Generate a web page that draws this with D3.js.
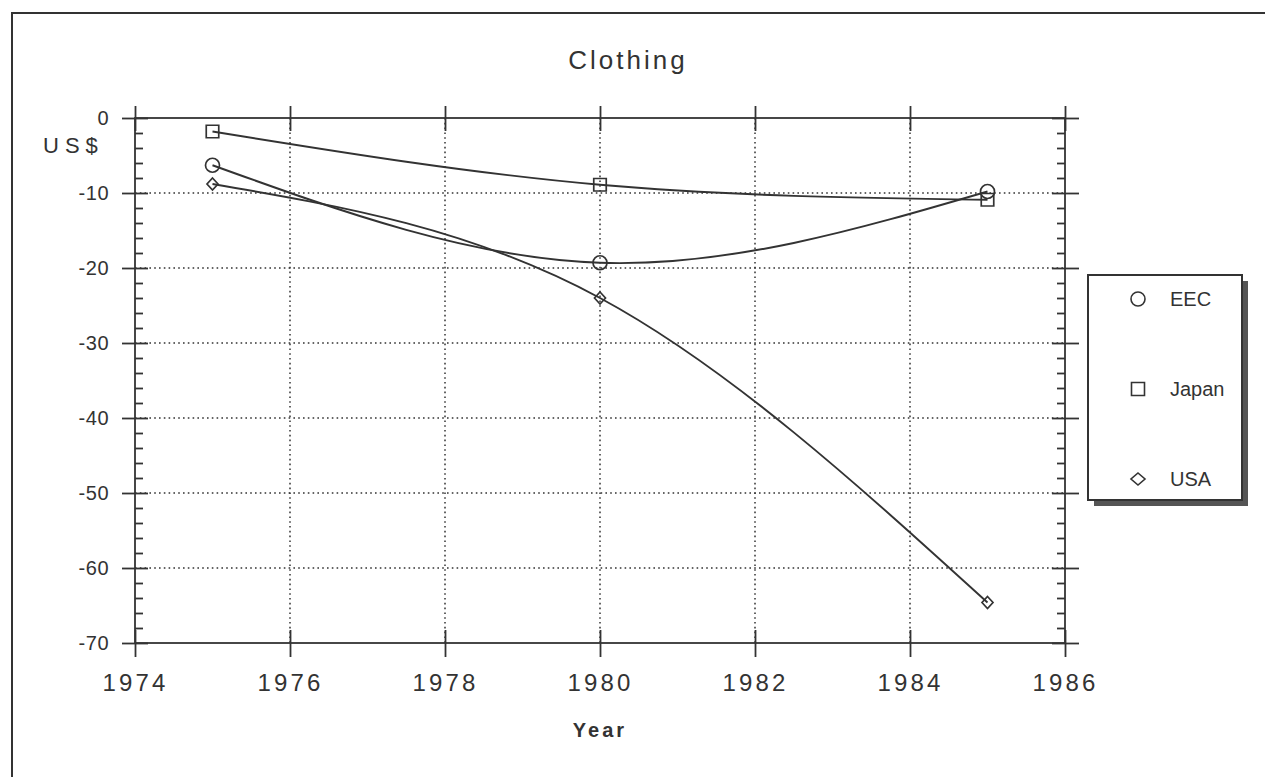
<!DOCTYPE html>
<html>
<head>
<meta charset="utf-8">
<script src="https://cdn.jsdelivr.net/npm/d3@7"></script>
<style>
  html, body { margin: 0; padding: 0; background: #fff; }
  svg { display: block; font-family: "Liberation Sans", Arial, Helvetica, sans-serif; }
</style>
</head>
<body>
<svg id="chart" width="1265" height="777"></svg>
<script>
// Trade balance in clothing, US$ (1975, 1980, 1985)
const years = [1975, 1980, 1985];
const eecValues = [-6.3, -19.3, -9.8];
const japanValues = [-1.8, -8.9, -10.9];
const usaValues = [-8.8, -24.0, -64.6];

const seriesNames = ["EEC", "Japan", "USA"];
const seriesSymbols = ["circle", "square", "diamond"];

const xTickValues = [1974, 1976, 1978, 1980, 1982, 1984, 1986];
const yTickValues = [0, -10, -20, -30, -40, -50, -60, -70];
const yMinorValues = d3.range(0, -71, -2).filter(v => v % 10 !== 0);

const ink = "#333";

const svg = d3.select("#chart");

// outer frame
svg.append("path")
  .attr("d", "M12,777 L12,13 L1265,13")
  .attr("fill", "none").attr("stroke", ink).attr("stroke-width", 2);

const plotLeft = 135, plotRight = 1065, plotTop = 118, plotBottom = 643;
const x = d3.scaleLinear().domain([1974, 1986]).range([plotLeft, plotRight]);
const y = d3.scaleLinear().domain([-70, 0]).range([plotBottom, plotTop]);

// title
svg.append("text")
  .attr("x", 628).attr("y", 69)
  .attr("text-anchor", "middle")
  .attr("font-size", 26).attr("letter-spacing", 3)
  .attr("fill", ink)
  .text("Clothing");

// dotted grid
const grid = svg.append("g").attr("stroke", ink).attr("stroke-width", 1.5)
  .attr("stroke-dasharray", "1.6,3.2");
grid.selectAll("line.h").data(yTickValues.filter(v => v !== 0 && v !== -70)).join("line")
  .attr("class", "h")
  .attr("x1", plotLeft).attr("x2", plotRight)
  .attr("y1", d => y(d)).attr("y2", d => y(d));
grid.selectAll("line.v").data(xTickValues.filter(v => v !== 1974 && v !== 1986)).join("line")
  .attr("class", "v")
  .attr("x1", d => x(d)).attr("x2", d => x(d))
  .attr("y1", plotTop).attr("y2", plotBottom);

// plot frame
svg.append("rect")
  .attr("x", plotLeft).attr("y", plotTop)
  .attr("width", plotRight - plotLeft).attr("height", plotBottom - plotTop)
  .attr("fill", "none").attr("stroke", ink).attr("stroke-width", 1.8);

function styleAxis(g) {
  g.select(".domain").remove();
  g.selectAll(".tick line").attr("stroke", ink).attr("stroke-width", 1.8);
  g.selectAll(".tick text").attr("fill", ink);
}

// left axis: labelled major ticks outward, major + minor ticks inward
svg.append("g").attr("transform", `translate(${plotLeft},0)`)
  .call(d3.axisLeft(y).tickValues(yTickValues).tickSize(13).tickPadding(13)
    .tickFormat(d => String(d)))
  .call(styleAxis)
  .call(g => g.selectAll(".tick text").attr("font-size", 20).attr("letter-spacing", 0.5));
svg.append("g").attr("transform", `translate(${plotLeft},0)`)
  .call(d3.axisRight(y).tickValues(yTickValues).tickSize(13).tickFormat(""))
  .call(styleAxis);
svg.append("g").attr("transform", `translate(${plotLeft},0)`)
  .call(d3.axisRight(y).tickValues(yMinorValues).tickSize(8).tickFormat(""))
  .call(styleAxis);

// right axis
svg.append("g").attr("transform", `translate(${plotRight},0)`)
  .call(d3.axisRight(y).tickValues(yTickValues).tickSize(14).tickFormat(""))
  .call(styleAxis);
svg.append("g").attr("transform", `translate(${plotRight},0)`)
  .call(d3.axisLeft(y).tickValues(yTickValues).tickSize(13).tickFormat(""))
  .call(styleAxis);
svg.append("g").attr("transform", `translate(${plotRight},0)`)
  .call(d3.axisLeft(y).tickValues(yMinorValues).tickSize(8).tickFormat(""))
  .call(styleAxis);

// bottom axis with year labels, ticks both sides
svg.append("g").attr("transform", `translate(0,${plotBottom})`)
  .call(d3.axisBottom(x).tickValues(xTickValues).tickSize(14).tickPadding(17)
    .tickFormat(d => String(d)))
  .call(styleAxis)
  .call(g => g.selectAll(".tick text").attr("font-size", 24).attr("letter-spacing", 3.2));
svg.append("g").attr("transform", `translate(0,${plotBottom})`)
  .call(d3.axisTop(x).tickValues(xTickValues).tickSize(13).tickFormat(""))
  .call(styleAxis);

// top axis ticks both sides
svg.append("g").attr("transform", `translate(0,${plotTop})`)
  .call(d3.axisTop(x).tickValues(xTickValues).tickSize(12).tickFormat(""))
  .call(styleAxis);
svg.append("g").attr("transform", `translate(0,${plotTop})`)
  .call(d3.axisBottom(x).tickValues(xTickValues).tickSize(13).tickFormat(""))
  .call(styleAxis);

// axis titles
svg.append("text")
  .attr("x", 43).attr("y", 153)
  .attr("font-size", 22).attr("letter-spacing", 6)
  .attr("fill", ink)
  .text("US$");
svg.append("text")
  .attr("x", 600).attr("y", 737)
  .attr("text-anchor", "middle")
  .attr("font-size", 20).attr("font-weight", "bold").attr("letter-spacing", 3)
  .attr("fill", ink)
  .text("Year");

// series
const series = [eecValues, japanValues, usaValues].map((vals, i) => ({
  name: seriesNames[i],
  symbol: seriesSymbols[i],
  points: years.map((yr, j) => ({ year: yr, value: vals[j] }))
}));

const line = d3.line()
  .x(d => x(d.year)).y(d => y(d.value))
  .curve(d3.curveNatural);

const markerPaths = {
  circle: d3.symbol().type(d3.symbolCircle).size(Math.PI * 7 * 7)(),
  square: d3.symbol().type(d3.symbolSquare).size(12.5 * 12.5)(),
  diamond: "M0,-6 L5.5,0 L0,6 L-5.5,0 Z"
};

const plot = svg.append("g");
plot.selectAll("path.series").data(series).join("path")
  .attr("class", "series")
  .attr("d", d => line(d.points))
  .attr("fill", "none").attr("stroke", ink).attr("stroke-width", 1.9);

series.forEach(s => {
  plot.append("g").selectAll("path").data(s.points).join("path")
    .attr("transform", d => `translate(${x(d.year)},${y(d.value)})`)
    .attr("d", markerPaths[s.symbol])
    .attr("fill", "none").attr("stroke", ink).attr("stroke-width", 1.7);
});

// legend box with drop shadow
const lg = svg.append("g").attr("transform", "translate(1088,275)");
const lgW = 154, lgH = 225;
lg.append("rect").attr("x", 6).attr("y", 6).attr("width", lgW).attr("height", lgH)
  .attr("fill", "#555");
lg.append("rect").attr("x", 0).attr("y", 0).attr("width", lgW).attr("height", lgH)
  .attr("fill", "#fff").attr("stroke", ink).attr("stroke-width", 2);

const legendSymbols = {
  circle: d3.symbol().type(d3.symbolCircle).size(Math.PI * 7 * 7)(),
  square: d3.symbol().type(d3.symbolSquare).size(13 * 13)(),
  diamond: "M0,-6 L7,0 L0,6 L-7,0 Z"
};
const itemY = [24, 114, 204];
const item = lg.selectAll("g.item").data(series).join("g")
  .attr("class", "item")
  .attr("transform", (d, i) => `translate(0,${itemY[i]})`);
item.append("path")
  .attr("transform", "translate(50,0)")
  .attr("d", d => legendSymbols[d.symbol])
  .attr("fill", "none").attr("stroke", ink).attr("stroke-width", 1.6);
item.append("text")
  .attr("x", 82).attr("y", 0).attr("dy", "0.35em")
  .attr("font-size", 20).attr("fill", ink)
  .text(d => d.name);
</script>
</body>
</html>
